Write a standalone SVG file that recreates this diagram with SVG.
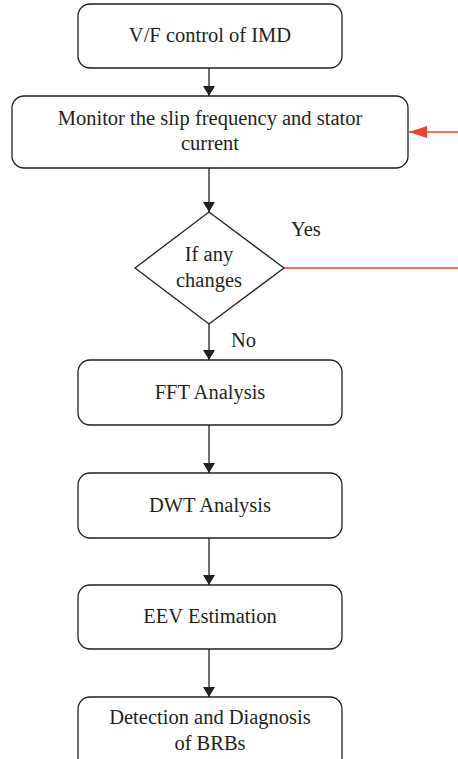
<svg xmlns="http://www.w3.org/2000/svg" width="458" height="759" viewBox="0 0 458 759">
<defs>
<marker id="ab" markerWidth="10" markerHeight="12" refX="10" refY="6" orient="auto" markerUnits="userSpaceOnUse"><path d="M0,0 L10,6 L0,12 Z" fill="#231f20"/></marker>
<marker id="ar" markerWidth="18" markerHeight="12" refX="18" refY="6" orient="auto" markerUnits="userSpaceOnUse"><path d="M0,0 L18,6 L0,12 Z" fill="#e8442a"/></marker>
</defs>
<style>
.box{fill:#fff;stroke:#231f20;stroke-width:1.3}
.t{font-family:"Liberation Serif","Times New Roman",serif;font-size:20.5px;fill:#231f20;text-anchor:middle}
.l{font-family:"Liberation Serif","Times New Roman",serif;font-size:20.5px;fill:#231f20}
.c{stroke:#231f20;stroke-width:1.3;fill:none}
.r{stroke:#e8442a;stroke-width:1.3;fill:none}
</style>
<rect width="458" height="759" fill="#fff"/>
<g id="connectors">
<line class="c" x1="209" y1="68" x2="209" y2="96" marker-end="url(#ab)"/>
<line class="c" x1="209" y1="168" x2="209" y2="212" marker-end="url(#ab)"/>
<line class="c" x1="209" y1="324" x2="209" y2="360" marker-end="url(#ab)"/>
<line class="c" x1="209" y1="425" x2="209" y2="473" marker-end="url(#ab)"/>
<line class="c" x1="209" y1="538" x2="209" y2="585" marker-end="url(#ab)"/>
<line class="c" x1="209" y1="649" x2="209" y2="697" marker-end="url(#ab)"/>
<line class="r" x1="284" y1="268" x2="458" y2="268"/>
<line class="r" x1="458" y1="132" x2="409" y2="132" marker-end="url(#ar)"/>
<text class="l" x="291" y="236">Yes</text>
<text class="l" x="231" y="347">No</text>
</g>
<g id="n1"><rect class="box" x="78" y="4" width="264" height="64" rx="12"/><text class="t" x="210" y="42">V/F control of IMD</text></g>
<g id="n2"><rect class="box" x="12" y="96" width="396" height="72" rx="12"/><text class="t" x="210" y="125">Monitor the slip frequency and stator</text><text class="t" x="210" y="150">current</text></g>
<g id="n3"><path class="box" d="M209,212 L284,268 L209,324 L135,268 Z"/><text class="t" x="209" y="261">If any</text><text class="t" x="209" y="287">changes</text></g>
<g id="n4"><rect class="box" x="78" y="360" width="264" height="65" rx="12"/><text class="t" x="210" y="399">FFT Analysis</text></g>
<g id="n5"><rect class="box" x="78" y="473" width="264" height="65" rx="12"/><text class="t" x="210" y="512">DWT Analysis</text></g>
<g id="n6"><rect class="box" x="78" y="585" width="264" height="64" rx="12"/><text class="t" x="210" y="623">EEV Estimation</text></g>
<g id="n7"><rect class="box" x="78" y="697" width="264" height="74" rx="12"/><text class="t" x="210" y="724">Detection and Diagnosis</text><text class="t" x="210" y="750">of BRBs</text></g>
</svg>
